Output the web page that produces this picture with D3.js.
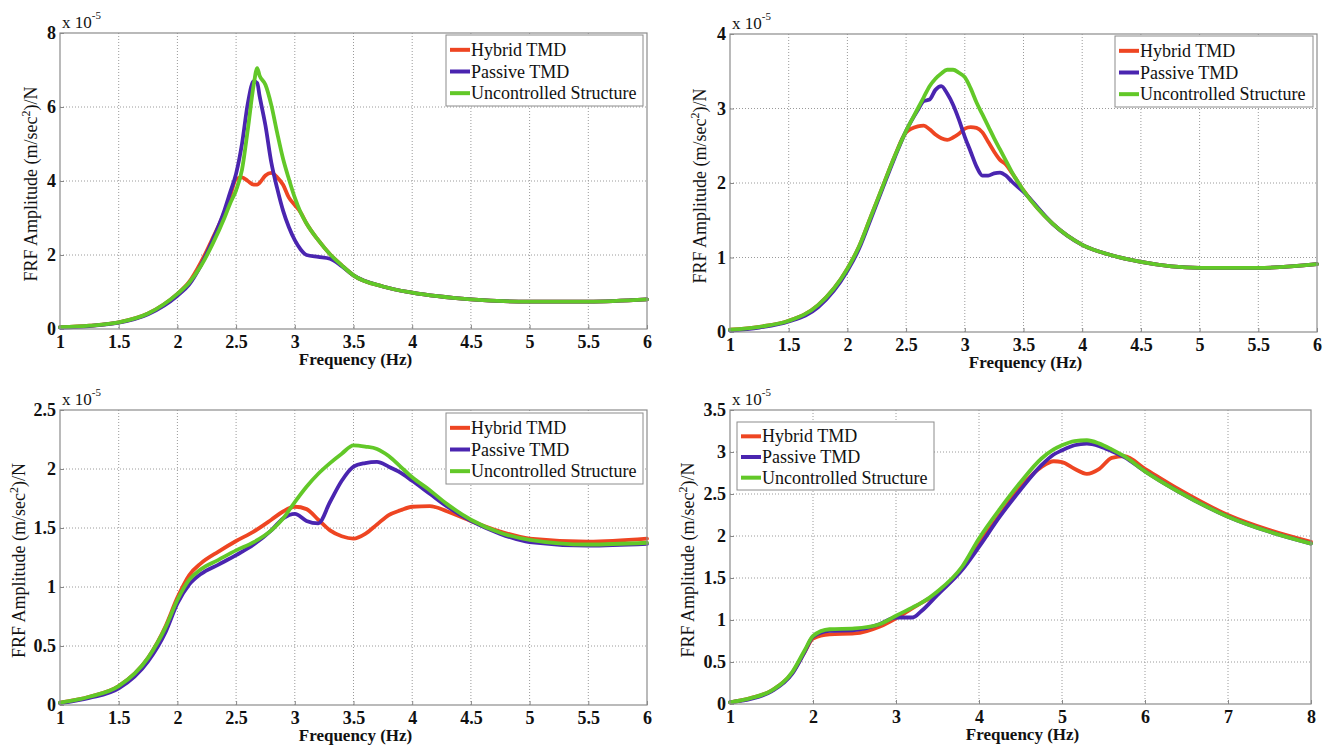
<!DOCTYPE html>
<html>
<head>
<meta charset="utf-8">
<script src="https://cdn.jsdelivr.net/npm/d3@7/dist/d3.min.js"></script>
<style>
  body { margin: 0; background: #fff; }
  svg { display: block; }
</style>
</head>
<body>
<div id="chart"></div>
<script>
// values, amplitudes in units of 1e-5 (m/sec^2)/N
const seriesNames = ["Hybrid TMD", "Passive TMD", "Uncontrolled Structure"];
const seriesColors = ["#ee4522", "#4a25b0", "#62c828"];

// panel 1
const freq1 = [1, 1.25, 1.5, 1.75, 2, 2.1, 2.2, 2.3, 2.4, 2.45, 2.5, 2.55, 2.6, 2.65, 2.68, 2.7, 2.75, 2.8, 2.85, 2.9, 2.95, 3, 3.05, 3.1, 3.2, 3.3, 3.4, 3.5, 3.75, 4, 4.5, 5, 5.5, 6];
const hybrid1 = [0.05, 0.09, 0.18, 0.42, 0.95, 1.27, 1.8, 2.45, 3.15, 3.6, 4.05, 4.1, 4.0, 3.9, 3.9, 3.95, 4.15, 4.22, 4.1, 3.9, 3.55, 3.35, 3.15, 2.85, 2.4, 2.02, 1.72, 1.45, 1.15, 0.98, 0.8, 0.74, 0.74, 0.8];
const passive1 = [0.04, 0.08, 0.17, 0.4, 0.9, 1.2, 1.72, 2.4, 3.2, 3.7, 4.2, 5.0, 6.1, 6.7, 6.65, 6.3, 5.5, 4.5, 3.8, 3.2, 2.75, 2.4, 2.15, 2.0, 1.95, 1.9, 1.7, 1.45, 1.15, 0.98, 0.8, 0.74, 0.74, 0.8];
const uncontrolled1 = [0.05, 0.09, 0.18, 0.42, 0.95, 1.25, 1.7, 2.3, 3.0, 3.4, 3.75, 4.3, 5.4, 6.6, 7.05, 6.85, 6.6, 6.05, 5.3, 4.6, 4.05, 3.55, 3.15, 2.85, 2.4, 2.02, 1.72, 1.45, 1.15, 0.98, 0.8, 0.74, 0.74, 0.8];

// panel 2
const freq2 = [1, 1.25, 1.5, 1.75, 2, 2.1, 2.2, 2.3, 2.4, 2.5, 2.6, 2.65, 2.7, 2.75, 2.8, 2.85, 2.9, 2.95, 3, 3.05, 3.1, 3.15, 3.2, 3.25, 3.3, 3.35, 3.4, 3.5, 3.75, 4, 4.25, 4.5, 5, 5.5, 6];
const hybrid2 = [0.03, 0.07, 0.15, 0.36, 0.85, 1.15, 1.55, 1.95, 2.35, 2.68, 2.76, 2.77, 2.72, 2.65, 2.6, 2.58, 2.61, 2.66, 2.73, 2.75, 2.74, 2.68, 2.55, 2.42, 2.31, 2.25, 2.14, 1.9, 1.45, 1.17, 1.03, 0.94, 0.86, 0.86, 0.91];
const passive2 = [0.02, 0.06, 0.14, 0.33, 0.82, 1.12, 1.52, 1.93, 2.33, 2.7, 2.98, 3.1, 3.12, 3.25, 3.3, 3.2, 3.05, 2.85, 2.62, 2.42, 2.22, 2.1, 2.1, 2.13, 2.14, 2.1, 2.02, 1.88, 1.45, 1.17, 1.03, 0.94, 0.86, 0.86, 0.91];
const uncontrolled2 = [0.03, 0.07, 0.15, 0.36, 0.85, 1.15, 1.55, 1.95, 2.35, 2.7, 3.0, 3.15, 3.3, 3.4, 3.47, 3.52, 3.52, 3.48, 3.42, 3.27, 3.08, 2.92, 2.76, 2.6, 2.45, 2.3, 2.15, 1.9, 1.45, 1.17, 1.03, 0.94, 0.86, 0.86, 0.91];

// panel 3
const freq3 = [1, 1.25, 1.5, 1.75, 1.9, 2, 2.1, 2.2, 2.35, 2.5, 2.65, 2.8, 2.9, 3, 3.1, 3.2, 3.3, 3.4, 3.5, 3.6, 3.7, 3.8, 3.9, 4, 4.15, 4.3, 4.5, 4.75, 5, 5.5, 6];
const hybrid3 = [0.02, 0.07, 0.16, 0.4, 0.67, 0.91, 1.1, 1.2, 1.3, 1.39, 1.47, 1.57, 1.64, 1.68, 1.66, 1.57, 1.48, 1.43, 1.41, 1.45, 1.53, 1.61, 1.65, 1.68, 1.685, 1.64, 1.56, 1.47, 1.41, 1.385, 1.41];
const passive3 = [0.015, 0.06, 0.14, 0.37, 0.62, 0.86, 1.02, 1.11, 1.19, 1.27, 1.36, 1.48, 1.58, 1.62, 1.56, 1.54, 1.72, 1.9, 2.02, 2.05, 2.06, 2.02, 1.97, 1.9, 1.79, 1.68, 1.56, 1.45, 1.38, 1.35, 1.365];
const uncontrolled3 = [0.02, 0.07, 0.16, 0.4, 0.66, 0.89, 1.06, 1.15, 1.23, 1.31, 1.38, 1.48, 1.58, 1.72, 1.85, 1.96, 2.05, 2.13, 2.2, 2.19, 2.17, 2.11, 2.02, 1.93, 1.82, 1.7, 1.57, 1.46, 1.4, 1.36, 1.375];

// panel 4
const freq4 = [1, 1.25, 1.5, 1.75, 1.9, 2, 2.2, 2.5, 2.8, 3, 3.1, 3.2, 3.3, 3.5, 3.8, 4, 4.25, 4.5, 4.75, 4.9, 5, 5.15, 5.3, 5.45, 5.6, 5.75, 6, 6.4, 7, 7.5, 8];
const hybrid4 = [0.02, 0.07, 0.16, 0.37, 0.62, 0.78, 0.83, 0.84, 0.92, 1.02, 1.08, 1.14, 1.2, 1.32, 1.62, 1.91, 2.25, 2.58, 2.82, 2.89, 2.88, 2.8, 2.74, 2.8, 2.93, 2.95, 2.8, 2.56, 2.25, 2.07, 1.93];
const passive4 = [0.02, 0.06, 0.15, 0.36, 0.62, 0.8, 0.87, 0.88, 0.95, 1.03, 1.03, 1.03, 1.1, 1.3, 1.6, 1.87, 2.23, 2.55, 2.84, 2.97, 3.02, 3.08, 3.1, 3.07, 3.01, 2.94, 2.77, 2.53, 2.23, 2.05, 1.91];
const uncontrolled4 = [0.02, 0.07, 0.16, 0.38, 0.64, 0.81, 0.89, 0.9, 0.95, 1.05, 1.1, 1.15, 1.2, 1.34, 1.64, 1.97, 2.32, 2.64, 2.92, 3.03, 3.08, 3.13, 3.14, 3.1, 3.03, 2.95, 2.77, 2.53, 2.23, 2.05, 1.91];

// tick values
const xTicksA = [1, 1.5, 2, 2.5, 3, 3.5, 4, 4.5, 5, 5.5, 6];
const xTicksB = [1, 2, 3, 4, 5, 6, 7, 8];
const yTicks1 = [0, 2, 4, 6, 8];
const yTicks2 = [0, 1, 2, 3, 4];
const yTicks3 = [0, 0.5, 1, 1.5, 2, 2.5];
const yTicks4 = [0, 0.5, 1, 1.5, 2, 2.5, 3, 3.5];

const W = 1333, H = 746;
const serif = "Liberation Serif";

const svg = d3.select("#chart").append("svg")
    .attr("width", W)
    .attr("height", H);

svg.append("rect").attr("width", W).attr("height", H).attr("fill", "#fff");

const panels = [
    { freq: freq1, series: [hybrid1, passive1, uncontrolled1], xTicks: xTicksA, yTicks: yTicks1,
      box: [60, 647, 33, 329], legend: [446, 35, 197, 71], ylabelX: 37 },
    { freq: freq2, series: [hybrid2, passive2, uncontrolled2], xTicks: xTicksA, yTicks: yTicks2,
      box: [730, 1317, 34, 332], legend: [1115, 36, 198, 71], ylabelX: 706 },
    { freq: freq3, series: [hybrid3, passive3, uncontrolled3], xTicks: xTicksA, yTicks: yTicks3,
      box: [60, 647, 410, 705], legend: [446, 413, 197, 71], ylabelX: 25 },
    { freq: freq4, series: [hybrid4, passive4, uncontrolled4], xTicks: xTicksB, yTicks: yTicks4,
      box: [730, 1311, 410, 704], legend: [737, 422, 197, 68], ylabelX: 694 }
];

panels.forEach(drawPanel);

function drawPanel(p) {
    const [left, right, top, bottom] = p.box;

    const x = d3.scaleLinear()
        .domain(d3.extent(p.xTicks))
        .range([left, right]);
    const y = d3.scaleLinear()
        .domain(d3.extent(p.yTicks))
        .range([bottom, top]);

    const g = svg.append("g");

    // dotted grid
    g.append("g")
        .selectAll("line")
        .data(p.xTicks.slice(1, -1))
        .enter().append("line")
        .attr("x1", d => x(d)).attr("x2", d => x(d))
        .attr("y1", top).attr("y2", bottom)
        .attr("stroke", "#9a9a9a")
        .attr("stroke-width", 1)
        .attr("stroke-dasharray", "1,2");
    g.append("g")
        .selectAll("line")
        .data(p.yTicks.slice(1, -1))
        .enter().append("line")
        .attr("x1", left).attr("x2", right)
        .attr("y1", d => y(d)).attr("y2", d => y(d))
        .attr("stroke", "#9a9a9a")
        .attr("stroke-width", 1)
        .attr("stroke-dasharray", "1,2");

    // axes
    const xAxis = g.append("g")
        .attr("transform", "translate(0," + bottom + ")")
        .call(d3.axisBottom(x).tickValues(p.xTicks).tickFormat(d3.format("~g")).tickSize(-4).tickPadding(6));
    const yAxis = g.append("g")
        .attr("transform", "translate(" + left + ",0)")
        .call(d3.axisLeft(y).tickValues(p.yTicks).tickFormat(d3.format("~g")).tickSize(-4).tickPadding(4));
    [xAxis, yAxis].forEach(a => {
        a.select(".domain").remove();
        a.selectAll(".tick line").attr("stroke", "#888");
        a.selectAll(".tick text")
            .attr("fill", "#111")
            .style("font-family", serif)
            .style("font-size", "18px")
            .style("font-weight", "bold");
    });

    // series
    const line = d3.line()
        .x((d, i) => x(p.freq[i]))
        .y(d => y(d))
        .curve(d3.curveMonotoneX);

    g.append("g")
        .selectAll("path")
        .data(p.series)
        .enter().append("path")
        .attr("d", line)
        .attr("fill", "none")
        .attr("stroke", (d, i) => seriesColors[i])
        .attr("stroke-width", 3.8)
        .attr("stroke-linejoin", "round")
        .attr("stroke-linecap", "round");

    // frame
    g.append("rect")
        .attr("x", left).attr("y", top)
        .attr("width", right - left).attr("height", bottom - top)
        .attr("fill", "none")
        .attr("stroke", "#8c8c8c")
        .attr("stroke-width", 1.2);

    // exponent
    const expo = g.append("text")
        .attr("x", left + 2)
        .attr("y", top - 5)
        .style("font-family", serif)
        .style("font-size", "17px")
        .attr("fill", "#111");
    expo.append("tspan").text("x 10");
    expo.append("tspan").attr("dy", -9).style("font-size", "11px").text("-5");

    // labels
    g.append("text")
        .attr("x", (left + right) / 2 + 2)
        .attr("y", bottom + 36)
        .attr("text-anchor", "middle")
        .style("font-family", serif)
        .style("font-weight", "bold")
        .style("font-size", "17px")
        .attr("fill", "#111")
        .text("Frequency (Hz)");

    const yl = g.append("text")
        .attr("transform", "translate(" + p.ylabelX + "," + ((top + bottom) / 2 + 3) + ") rotate(-90)")
        .attr("text-anchor", "middle")
        .style("font-family", serif)
        .style("font-size", "18px")
        .attr("fill", "#111");
    yl.append("tspan").text("FRF Amplitude (m/sec");
    yl.append("tspan").attr("dy", -7).style("font-size", "12px").text("2");
    yl.append("tspan").attr("dy", 7).text(")/N");

    // legend
    const [lx, ly, lw, lh] = p.legend;
    const lg = g.append("g").attr("transform", "translate(" + lx + "," + ly + ")");
    lg.append("rect")
        .attr("width", lw).attr("height", lh)
        .attr("fill", "#fff")
        .attr("stroke", "#8c8c8c")
        .attr("stroke-width", 1);
    const rowH = (lh - 6) / 3;
    seriesNames.forEach((name, i) => {
        const cy = 3 + rowH * (i + 0.5) + 1;
        lg.append("line")
            .attr("x1", 4).attr("x2", 24)
            .attr("y1", cy).attr("y2", cy)
            .attr("stroke", seriesColors[i])
            .attr("stroke-width", 4);
        lg.append("text")
            .attr("x", 25)
            .attr("y", cy)
            .attr("dy", "0.34em")
            .style("font-family", serif)
            .style("font-size", "18px")
            .attr("fill", "#111")
            .text(name);
    });
}
</script>
</body>
</html>
